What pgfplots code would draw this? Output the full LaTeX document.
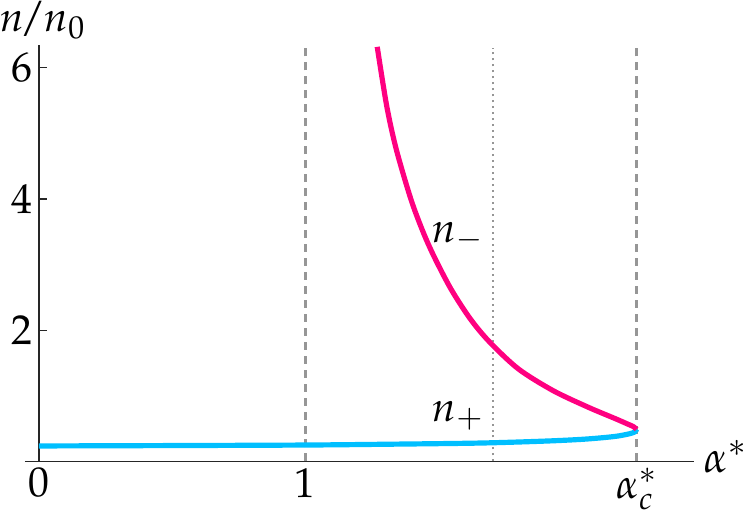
\documentclass[border=0pt]{standalone}
\usepackage{mathpazo}
\usepackage{pgfplots}
\pgfplotsset{compat=1.18}
\definecolor{pinkc}{RGB}{255,0,128}
\definecolor{bluec}{RGB}{0,191,255}
\definecolor{dashg}{RGB}{150,150,150}
\begin{document}
\begin{tikzpicture}
\begin{axis}[
  at={(0,0)}, anchor=origin,
  scale only axis, width=335.5bp, height=208.75bp,
  xmin=-0.0524, xmax=2.4607, ymin=0, ymax=6.35,
  axis lines=middle,
  axis line style={-, line width=0.8bp, black!85},
  hide obscured x ticks=false,
  xtick={0,1,2.2434}, xticklabels={$0$,$1$,$\alpha_c^*$},
  ytick={2,4,6}, yticklabels={$2$,$4$,$6$},
  tick style={black!85, line width=0.6bp},
  major tick length=4bp,
  tick align=inside,
  ticklabel style={font=\fontsize{21}{24}\selectfont},
  clip=false,
]
\addplot[dashg, line width=1.6bp, dash pattern=on 4bp off 3bp] coordinates {(1,0) (1,6.3)};
\addplot[dashg, line width=1.6bp, dash pattern=on 4bp off 3bp] coordinates {(2.2434,0) (2.2434,6.3)};
\addplot[dashg, line width=1.2bp, dash pattern=on 1bp off 2bp] coordinates {(1.704,0) (1.704,6.3)};
\addplot[bluec, line width=2.6bp, smooth] coordinates {
(0,0.236) (0.5,0.242) (1.0,0.250) (1.3,0.262) (1.652,0.28) (1.90,0.31) (2.05,0.34) (2.16,0.38) (2.215,0.42) (2.237,0.45) (2.2434,0.49)};
\addplot[pinkc, line width=2.6bp, smooth, tension=0.5] coordinates {
(2.2434,0.49) (2.232,0.53) (2.21,0.57) (2.165,0.65) (2.06,0.83) (1.93,1.08) (1.80,1.41) (1.692,1.82) (1.620,2.17) (1.548,2.62) (1.485,3.11) (1.443,3.49) (1.397,3.99) (1.342,4.75) (1.306,5.41) (1.270,6.32)};
\node[font=\fontsize{21}{24}\selectfont] at (axis cs:1.573,3.43) {$n_-$};
\node[font=\fontsize{21}{24}\selectfont] at (axis cs:1.573,0.70) {$n_+$};
\node[font=\fontsize{22}{24}\selectfont, anchor=west, inner sep=0pt] at (axis cs:2.494,0.07) {$\alpha^*$};
\node[font=\fontsize{21}{24}\selectfont, anchor=north west, inner sep=0pt] at (axis cs:-0.146,7.03) {$n\mkern-2mu/\mkern-1mu n_0$};
\end{axis}
\path (-19.5bp,-23.75bp) rectangle (354bp,231.25bp);
\end{tikzpicture}
\end{document}
